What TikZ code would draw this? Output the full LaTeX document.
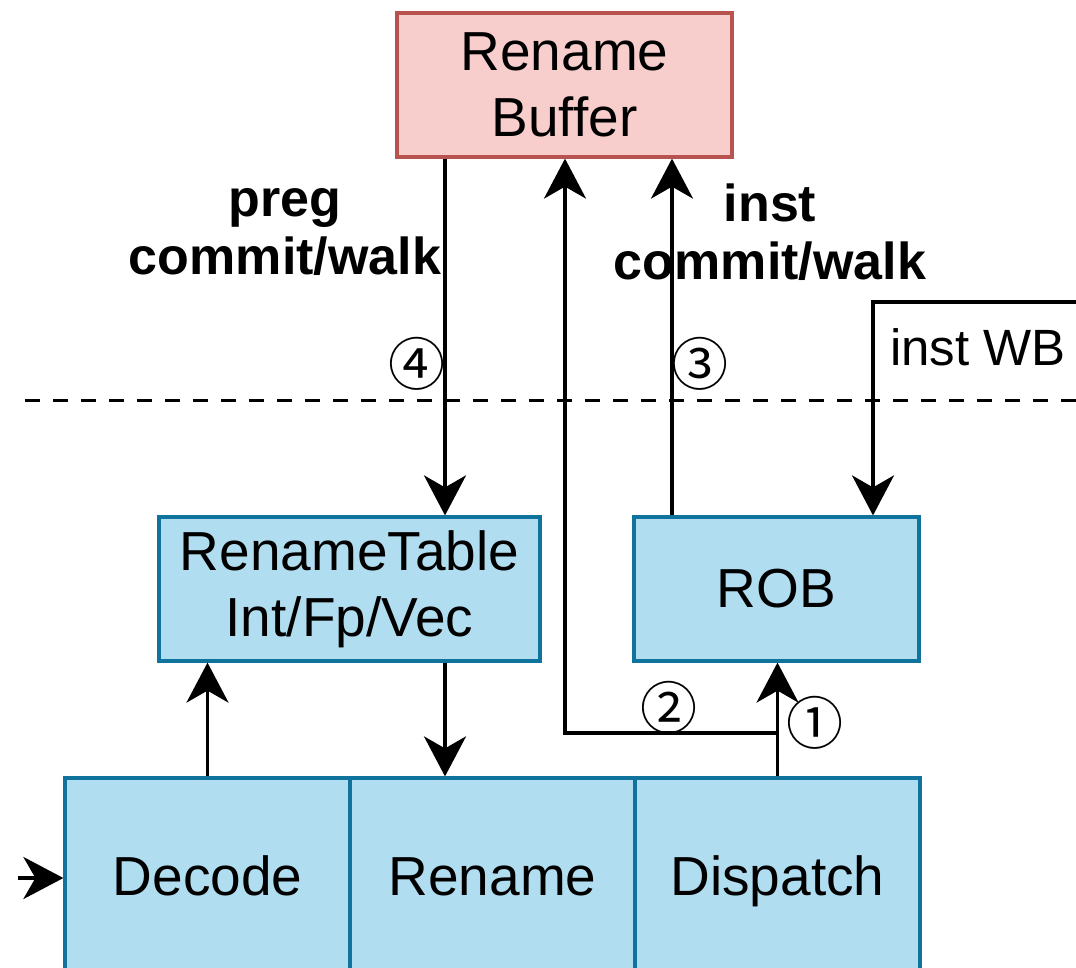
\documentclass[tikz,border=0pt]{standalone}
\usepackage{fontspec}
\setmainfont{Liberation Sans}
\newfontfamily\circfont{Noto Sans CJK SC}
\usetikzlibrary{arrows.meta}

\definecolor{bufline}{HTML}{B85450}
\definecolor{buffill}{HTML}{F8CECC}
\definecolor{stageline}{HTML}{10739E}
\definecolor{stagefill}{HTML}{B1DDF0}

\begin{document}
\begin{tikzpicture}[x=1pt, y=-1pt, line width=3.5pt,
    >={Stealth[length=40pt, width=42pt, inset=12pt]},
    box/.style={draw=stageline, fill=stagefill, inner sep=0pt, align=center,
        line width=3.2pt, minimum height=144pt, font=\fontsize{55}{66}\selectfont},
    stage/.style={box, minimum width=285pt, minimum height=200pt,
        text height=40pt, text depth=6pt},
    tag/.style={font=\circfont\fontsize{57}{57}\selectfont, inner sep=0pt},
    boldtxt/.style={font=\bfseries\fontsize{52}{58}\selectfont, align=center, inner sep=0pt}]
    \useasboundingbox (0,0) rectangle (1076,967);
    \clip (0,0) rectangle (1076,967);

    % Boxes
    \node[box, draw=bufline, fill=buffill, minimum width=335pt] (RB) at (564.5,85) {Rename\\Buffer};
    \node[box, minimum width=381pt] (RT) at (349.5,589) {RenameTable\\Int/Fp/Vec};
    \node[box, minimum width=285pt] (ROB) at (776.5,589) {ROB};
    \foreach \name/\x in {Decode/207.5, Rename/492.5, Dispatch/777.5}
        \node[stage] (\name) at (\x,878) {\name};

    % Columns of the vertical connectors
    \coordinate (c4) at (445,0);
    \coordinate (c2) at (565,0);
    \coordinate (c3) at (672,0);
    \coordinate (cwb) at (873,0);
    \coordinate (split) at (777.5,733);
    \coordinate (wbin) at (1080,302);
    \coordinate (fetch) at (18,878);

    % Separator
    \draw[line width=3pt, dash pattern=on 15pt off 13pt] (25,400) -- (1076,400);

    % Connectors
    \draw[->] (fetch) -- (Decode.west);
    \draw[->] (Decode.north) -- (RT.south -| Decode.north);
    \draw[->] (RT.south -| c4) -- (Rename.north -| c4);
    \draw[->] (Dispatch.north) -- (ROB.south -| Dispatch.north);
    \draw[->] (split) -| (RB.south -| c2);
    \draw[->] (ROB.north -| c3) -- (RB.south -| c3);
    \draw[->] (RB.south -| c4) -- (RT.north -| c4);
    \draw[->] (wbin) -| (ROB.north -| cwb);

    % Labels
    \node[boldtxt] (preglbl) at (285,232) {preg\\commit/walk};
    \node[boldtxt] (instlbl) at (770,232) {inst\\commit/walk};
    \node[font=\fontsize{51}{51}\selectfont, anchor=base, inner sep=0pt] (wblbl) at (978,365) {inst WB};
    \node[tag] (t1) at (815,723) {①};
    \node[tag] (t2) at (669,708) {②};
    \node[tag] (t3) at (700,364) {③};
    \node[tag] (t4) at (417,364) {④};
\end{tikzpicture}
\end{document}
